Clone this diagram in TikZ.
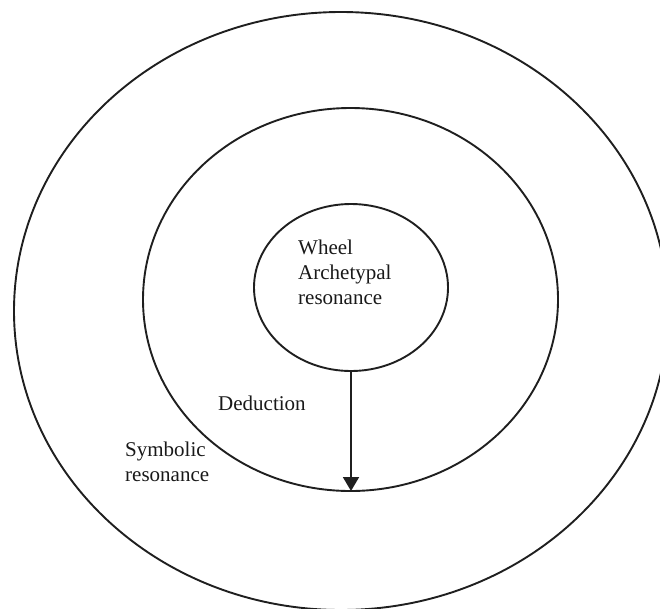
\documentclass[tikz,border=0pt]{standalone}
\usepackage{fontspec}
\setmainfont{Liberation Serif}
\usetikzlibrary{shapes.geometric,arrows.meta}
\begin{document}
\begin{tikzpicture}[x=1pt,y=-1pt,
  ring/.style={draw=black!88,line width=1.9pt,ellipse,inner sep=0pt,outer sep=0pt},
  lbl/.style={anchor=base west,align=left,inner sep=0pt,text=black!90,
    font=\fontsize{21}{25}\selectfont},
  flow/.style={draw=black!88,line width=1.9pt,-{Triangle[length=14pt,width=16pt]}}]
\useasboundingbox (0,0) rectangle (660,608);
\clip (0,0) rectangle (660,608);

% three nested rings
\node[ring,minimum width=654pt,minimum height=598pt] (outer) at (341,311) {};
\node[ring,minimum width=415pt,minimum height=383pt] (middle) at (350.5,299.5) {};
\node[ring,minimum width=194pt,minimum height=167pt] (inner) at (351,287.5) {};

% labels (base anchor sits on the last line)
\node[lbl] (wheel) at (298,304) {Wheel\\Archetypal\\resonance};
\node[lbl] (deduction) at (218,410) {Deduction};
\node[lbl] (symbolic) at (125,481) {Symbolic\\resonance};

% deduction arrow from the core down to the middle ring
\draw[flow] (inner.south) -- (inner.south |- middle.south);
\end{tikzpicture}
\end{document}
